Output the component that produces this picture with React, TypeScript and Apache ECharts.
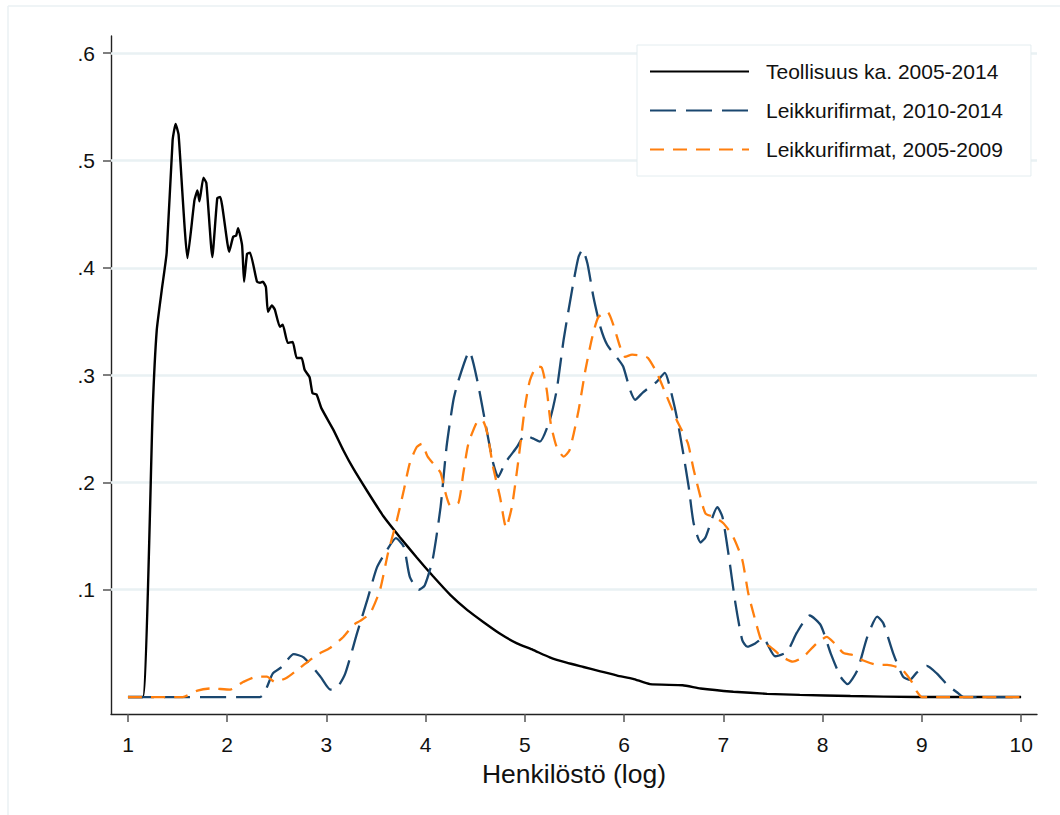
import React, { useEffect, useRef } from "react";
import * as echarts from "echarts";

const xTicks = [1, 2, 3, 4, 5, 6, 7, 8, 9, 10];
const yTicks = [0.1, 0.2, 0.3, 0.4, 0.5, 0.6];

const seriesNames = [
  "Teollisuus ka. 2005-2014",
  "Leikkurifirmat, 2010-2014",
  "Leikkurifirmat, 2005-2009",
];

const teoX = [1, 1.15, 1.25, 1.29, 1.34, 1.39, 1.45, 1.48, 1.51, 1.6, 1.67, 1.7, 1.72, 1.76, 1.79, 1.85, 1.9, 1.93, 2.02, 2.06, 2.09, 2.11, 2.15, 2.17, 2.2, 2.23, 2.3, 2.33, 2.36, 2.39, 2.41, 2.45, 2.48, 2.53, 2.56, 2.61, 2.66, 2.7, 2.75, 2.78, 2.83, 2.86, 2.9, 2.95, 3.07, 3.17, 3.27, 3.41, 3.57, 3.74, 3.91, 4.07, 4.25, 4.42, 4.58, 4.75, 4.92, 5.08, 5.25, 5.42, 5.59, 5.76, 5.93, 6.09, 6.26, 6.59, 6.77, 7.1, 7.44, 7.77, 8.28, 8.95, 10];
const teoY = [0, 0, 0.27, 0.342, 0.379, 0.414, 0.519, 0.534, 0.524, 0.409, 0.463, 0.472, 0.462, 0.484, 0.479, 0.41, 0.465, 0.466, 0.415, 0.429, 0.43, 0.437, 0.421, 0.387, 0.413, 0.414, 0.387, 0.386, 0.387, 0.382, 0.359, 0.365, 0.361, 0.345, 0.347, 0.33, 0.331, 0.316, 0.316, 0.305, 0.298, 0.283, 0.282, 0.269, 0.249, 0.23, 0.213, 0.192, 0.169, 0.149, 0.13, 0.113, 0.095, 0.081, 0.07, 0.059, 0.05, 0.044, 0.037, 0.032, 0.028, 0.024, 0.02, 0.017, 0.012, 0.011, 0.008, 0.005, 0.003, 0.002, 0.001, 0, 0];

const newX = [1, 2.33, 2.46, 2.55, 2.67, 2.77, 2.94, 3.04, 3.11, 3.19, 3.31, 3.41, 3.51, 3.61, 3.7, 3.78, 3.84, 3.93, 3.99, 4.07, 4.15, 4.21, 4.28, 4.33, 4.44, 4.52, 4.62, 4.68, 4.73, 4.8, 4.92, 5.0, 5.08, 5.15, 5.25, 5.32, 5.39, 5.48, 5.54, 5.58, 5.63, 5.69, 5.76, 5.83, 5.93, 5.99, 6.06, 6.11, 6.19, 6.26, 6.33, 6.41, 6.46, 6.53, 6.59, 6.65, 6.7, 6.77, 6.82, 6.94, 6.99, 7.05, 7.12, 7.19, 7.24, 7.32, 7.4, 7.52, 7.64, 7.74, 7.87, 7.98, 8.08, 8.18, 8.25, 8.35, 8.45, 8.55, 8.61, 8.71, 8.81, 8.88, 8.95, 9.05, 9.15, 9.26, 9.36, 9.42, 10];
const newY = [0, 0, 0.022, 0.028, 0.04, 0.037, 0.019, 0.007, 0.009, 0.022, 0.06, 0.09, 0.121, 0.137, 0.148, 0.14, 0.112, 0.1, 0.104, 0.128, 0.177, 0.233, 0.277, 0.295, 0.322, 0.295, 0.246, 0.218, 0.205, 0.218, 0.233, 0.244, 0.241, 0.238, 0.258, 0.286, 0.333, 0.382, 0.41, 0.417, 0.404, 0.373, 0.345, 0.328, 0.316, 0.308, 0.286, 0.277, 0.284, 0.289, 0.294, 0.302, 0.289, 0.261, 0.23, 0.196, 0.162, 0.144, 0.149, 0.177, 0.168, 0.134, 0.088, 0.053, 0.047, 0.05, 0.055, 0.038, 0.042, 0.06, 0.076, 0.067, 0.041, 0.019, 0.012, 0.025, 0.056, 0.075, 0.069, 0.041, 0.019, 0.016, 0.023, 0.029, 0.022, 0.011, 0.004, 0, 0];

const oldX = [1, 1.55, 1.7, 1.83, 2.03, 2.16, 2.3, 2.4, 2.48, 2.6, 2.73, 2.9, 3.04, 3.17, 3.27, 3.34, 3.44, 3.54, 3.62, 3.71, 3.78, 3.84, 3.91, 3.96, 4.02, 4.09, 4.15, 4.2, 4.25, 4.33, 4.38, 4.43, 4.52, 4.57, 4.62, 4.68, 4.75, 4.81, 4.87, 4.94, 5.0, 5.05, 5.12, 5.17, 5.22, 5.26, 5.32, 5.39, 5.45, 5.54, 5.61, 5.68, 5.74, 5.83, 5.89, 5.96, 6.01, 6.08, 6.18, 6.24, 6.33, 6.43, 6.53, 6.64, 6.7, 6.77, 6.82, 6.9, 7.0, 7.1, 7.19, 7.25, 7.32, 7.39, 7.47, 7.6, 7.7, 7.8, 7.94, 8.04, 8.12, 8.21, 8.31, 8.41, 8.55, 8.65, 8.75, 8.81, 8.9, 8.95, 9.0, 10];
const oldY = [0, 0, 0.006, 0.008, 0.007, 0.014, 0.019, 0.019, 0.014, 0.018, 0.027, 0.039, 0.046, 0.056, 0.067, 0.071, 0.078, 0.1, 0.134, 0.165, 0.193, 0.218, 0.233, 0.236, 0.224, 0.216, 0.209, 0.19, 0.178, 0.181, 0.209, 0.236, 0.257, 0.258, 0.246, 0.214, 0.186, 0.158, 0.178, 0.225, 0.27, 0.295, 0.308, 0.307, 0.286, 0.255, 0.233, 0.224, 0.23, 0.267, 0.305, 0.336, 0.354, 0.359, 0.347, 0.326, 0.317, 0.319, 0.318, 0.316, 0.302, 0.28, 0.258, 0.237, 0.212, 0.186, 0.171, 0.168, 0.162, 0.149, 0.128, 0.097, 0.072, 0.051, 0.047, 0.037, 0.033, 0.037, 0.05, 0.056, 0.05, 0.041, 0.039, 0.034, 0.03, 0.03, 0.028, 0.025, 0.014, 0.005, 0, 0];

const zip = (xs: number[], ys: number[]) => xs.map((x, i) => [x, ys[i]]);

const FONT = "'Liberation Sans', Arial, Helvetica, sans-serif";

export default function App() {
  const ref = useRef<HTMLDivElement>(null);
  useEffect(() => {
    if (!ref.current) return;
    const chart = echarts.init(ref.current, undefined, { renderer: "svg" });
    chart.setOption({
      animation: false,
      backgroundColor: "#ffffff",
      textStyle: { fontFamily: FONT },
      grid: { left: 111, right: 23, top: 36, bottom: 101, containLabel: false },
      graphic: [
        { type: "line", shape: { x1: 8, y1: 6, x2: 1060, y2: 6 }, style: { stroke: "#eaf1f3", lineWidth: 1.5 }, silent: true },
        { type: "line", shape: { x1: 8, y1: 6, x2: 8, y2: 815 }, style: { stroke: "#eaf1f3", lineWidth: 1.5 }, silent: true },
      ],
      legend: {
        orient: "vertical",
        left: 637,
        top: 45,
        padding: [16, 28, 16, 12],
        itemWidth: 99,
        itemHeight: 20,
        itemGap: 18,
        borderColor: "#e4edf0",
        borderWidth: 1,
        backgroundColor: "#ffffff",
        itemStyle: { opacity: 0, borderWidth: 0 },
        textStyle: { fontFamily: FONT, fontSize: 21, color: "#111", padding: [0, 0, 0, 12] },
        data: seriesNames,
      },
      xAxis: {
        type: "value",
        min: 0.829,
        max: 10.16,
        name: "Henkilöstö (log)",
        nameLocation: "middle",
        nameGap: 46,
        nameTextStyle: { fontFamily: FONT, fontSize: 26.5, color: "#111" },
        axisLine: { show: true, onZero: false, lineStyle: { color: "#222", width: 1.4 } },
        axisTick: { show: true, length: 8, customValues: xTicks, lineStyle: { color: "#555", width: 1.5 } },
        axisLabel: { customValues: xTicks, margin: 20, fontFamily: FONT, fontSize: 21, color: "#111", formatter: (v: number) => String(v) },
        splitLine: { show: false },
      },
      yAxis: {
        type: "value",
        min: -0.0158,
        max: 0.616,
        axisLine: { show: true, onZero: false, lineStyle: { color: "#222", width: 1.4 } },
        axisTick: { show: true, length: 8, customValues: yTicks, lineStyle: { color: "#555", width: 1.5 } },
        axisLabel: { customValues: yTicks, margin: 16, fontFamily: FONT, fontSize: 21, color: "#111", formatter: (v: number) => "." + Math.round(v * 10) },
        splitLine: { show: false },
      },
      series: [
        {
          name: seriesNames[0],
          type: "line",
          data: zip(teoX, teoY),
          symbol: "none",
          smooth: 0.15,
          z: 3,
          lineStyle: { color: "#000000", width: 2.4, type: "solid" },
          itemStyle: { color: "#000000" },
          markLine: {
            silent: true,
            symbol: "none",
            z: 1,
            label: { show: false },
            lineStyle: { color: "#e9f1f3", width: 2.5, type: "solid" },
            data: yTicks.map((v) => ({ yAxis: v })),
          },
        },
        {
          name: seriesNames[1],
          type: "line",
          data: zip(newX, newY),
          symbol: "none",
          smooth: 0.2,
          z: 4,
          lineStyle: { color: "#1a476f", width: 2.3, type: [26, 10] },
          itemStyle: { color: "#1a476f" },
        },
        {
          name: seriesNames[2],
          type: "line",
          data: zip(oldX, oldY),
          symbol: "none",
          smooth: 0.2,
          z: 5,
          lineStyle: { color: "#ff7f0e", width: 2.3, type: [14, 9] },
          itemStyle: { color: "#ff7f0e" },
        },
      ],
    });
    return () => chart.dispose();
  }, []);
  return (
    <div
      ref={ref}
      style={{ position: "absolute", left: 0, top: 0, width: 1060, height: 815, background: "#fff" }}
    />
  );
}
